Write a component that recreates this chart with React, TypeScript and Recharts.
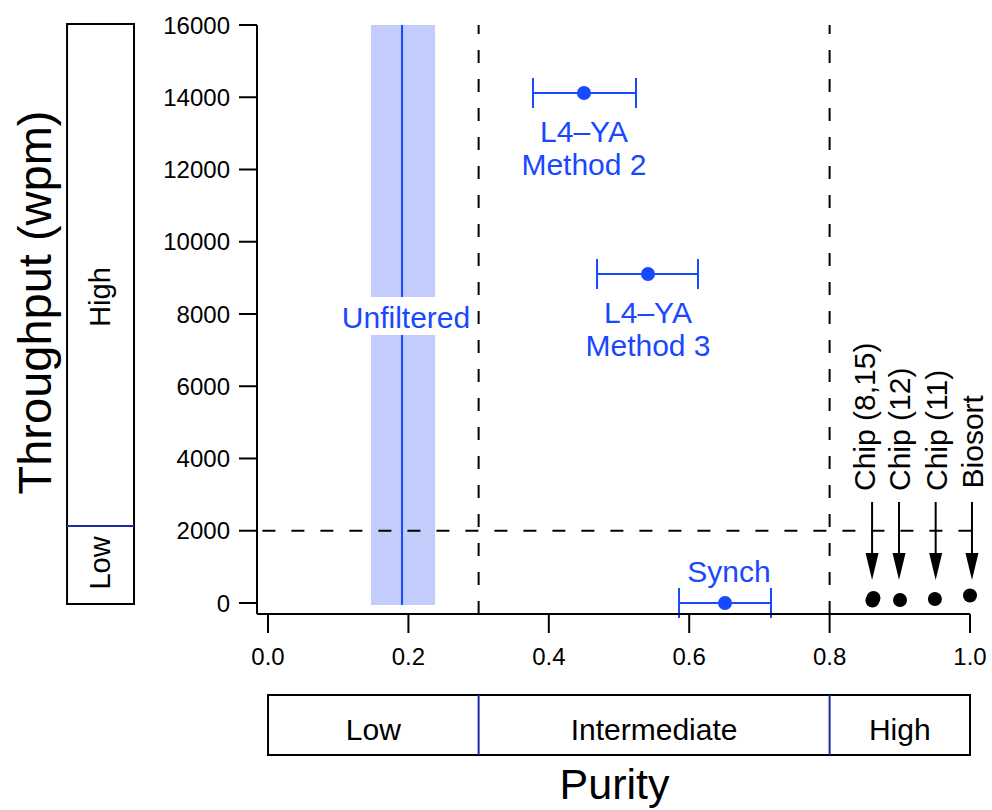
import React from 'react';
import {
  ScatterChart,
  Scatter,
  XAxis,
  YAxis,
  ReferenceArea,
  ReferenceLine,
  ReferenceDot,
  ErrorBar,
} from 'recharts';

// ---------- data ----------
const xTicks = [0, 0.2, 0.4, 0.6, 0.8, 1.0];
const yTicks = [0, 2000, 4000, 6000, 8000, 10000, 12000, 14000, 16000];

const methodNames = ['L4–YA|Method 2', 'L4–YA|Method 3', 'Synch'];
const methodPurity = [0.4501, 0.5413, 0.651];
const methodThroughput = [14118, 9107, 0];
const methodErrLow = [0.0726, 0.0726, 0.0655];
const methodErrHigh = [0.0741, 0.0712, 0.0655];
const methodLabelSide = ['below', 'below', 'above'];

const unfilteredName = 'Unfiltered';
const unfilteredPurity = 0.1909;
const unfilteredRange = [0.1467, 0.2379];
const unfilteredSegments = [
  [-55, 7420],
  [8470, 16000],
];
const unfilteredLabelPoint = [0.1966, 7903];

const chipPurity = [0.861, 0.8625, 0.9003, 0.95, 1.0];
const chipThroughput = [70, 140, 83, 111, 208];

const arrowNames = ['Chip (8,15)', 'Chip (12)', 'Chip (11)', 'Biosort'];
const arrowPurity = [0.8605, 0.8989, 0.9511, 1.0028];
const arrowTop = 2796;
const arrowHeadBase = 1384;
const arrowTip = 637;
const arrowLabelPurity = [0.8647, 0.9145, 0.9672, 1.0185];
const arrowLabelStart = [3100, 3100, 3100, 3170];

const purityThresholds = [0.3, 0.8];
const throughputThreshold = 2000;

const purityClasses = ['Low', 'Intermediate', 'High'];
const purityClassBounds = [
  [0, 0.3],
  [0.3, 0.8],
  [0.8, 1.0],
];
const throughputClasses = ['High', 'Low'];
const throughputClassBounds = [
  [2130, 16028],
  [-28, 2130],
];

// ---------- layout (data-space placement of annotation boxes) ----------
const xDomain: [number, number] = [-0.0157, 1.0];
const yDomain: [number, number] = [-305, 16000];
const purityBox = { y1: -4207, y2: -2546, labelY: -3488 };
const throughputBox = { x1: -0.2863, x2: -0.1909, labelX: -0.2393, labelY: [8470, 1107] };

// ---------- styles ----------
const FONT = '"Liberation Sans", Arial, Helvetica, sans-serif';
const BLUE = '#1848ff';
const BAND = '#c2cdfc';
const NAVY = '#1b2c9e';
const LABEL_SIZE = 30;

const methodData = methodNames.map((name, i) => ({
  x: methodPurity[i],
  y: methodThroughput[i],
  err: [methodErrLow[i], methodErrHigh[i]],
  label: name,
  side: methodLabelSide[i],
}));
const chipData = chipPurity.map((x, i) => ({ x, y: chipThroughput[i] }));

const MethodShape = (p: any) => {
  const { cx, cy, payload } = p;
  const lines: string[] = payload.label.split('|');
  const below = payload.side === 'below';
  return (
    <g>
      <circle cx={cx} cy={cy} r={7} fill={BLUE} />
      {lines.map((t, i) => (
        <text
          key={i}
          x={below ? cx : cx + 4}
          y={below ? cy + 49 + i * 33 : cy - 21 - (lines.length - 1 - i) * 33}
          textAnchor="middle"
          fill={BLUE}
          fontSize={LABEL_SIZE}
          fontFamily={FONT}
        >
          {t}
        </text>
      ))}
    </g>
  );
};

const ChipShape = (p: any) => <circle cx={p.cx} cy={p.cy} r={7} fill="#000" />;

const ArrowHead = (p: any) => (
  <path d={`M${p.cx - 6.5},${p.cy - 27} L${p.cx + 6.5},${p.cy - 27} L${p.cx},${p.cy} Z`} fill="#000" />
);

const rotatedText = (text: string, size: number, fill: string, anchor: string, centered: boolean) => (p: any) => {
  const bx = centered ? p.cx + size * 0.36 : p.cx;
  return (
    <text
      x={bx}
      y={p.cy}
      transform={`rotate(-90 ${bx} ${p.cy})`}
      textAnchor={anchor}
      fontSize={size}
      fill={fill}
      fontFamily={FONT}
    >
      {text}
    </text>
  );
};

const flatText = (text: string, size: number, fill: string) => (p: any) => (
  <text x={p.cx} y={p.cy + size * 0.36} textAnchor="middle" fontSize={size} fill={fill} fontFamily={FONT}>
    {text}
  </text>
);

const YTitle = (props: any) => {
  const vb = props.viewBox || { x: 157, y: 25, width: 100, height: 589 };
  const x = vb.x - 106;
  const y = vb.y + vb.height / 2 - 17;
  return (
    <text x={x} y={y} transform={`rotate(-90 ${x} ${y})`} textAnchor="middle" fontSize={47} fontFamily={FONT} fill="#000">
      Throughput (wpm)
    </text>
  );
};

const XTitle = (props: any) => {
  const vb = props.viewBox || { x: 257, y: 614, width: 713, height: 40 };
  return (
    <text x={vb.x + vb.width / 2 + 1} y={vb.y + 185} textAnchor="middle" fontSize={43} fontFamily={FONT} fill="#000">
      Purity
    </text>
  );
};

const axisStroke = { stroke: '#000', strokeWidth: 2 };
const tickStyle = { fill: '#000', fontSize: 24, fontFamily: FONT };

export default function App() {
  return (
    <div style={{ width: 992, height: 810 }}>
      <style>{'body{margin:0;overflow:hidden}'}</style>
      <ScatterChart
        width={992}
        height={810}
        margin={{ top: 25, right: 22, left: 157, bottom: 156 }}
        style={{ fontFamily: FONT }}
      >
        <XAxis
          dataKey="x"
          type="number"
          domain={xDomain}
          ticks={xTicks}
          interval={0}
          tickFormatter={(v: number) => v.toFixed(1)}
          tickSize={19}
          tickMargin={15}
          height={40}
          axisLine={axisStroke}
          tickLine={axisStroke}
          tick={tickStyle}
          label={{ content: XTitle }}
        />
        <YAxis
          dataKey="y"
          type="number"
          domain={yDomain}
          ticks={yTicks}
          interval={0}
          tickSize={18}
          tickMargin={9}
          width={100}
          axisLine={axisStroke}
          tickLine={axisStroke}
          tick={tickStyle}
          label={{ content: YTitle }}
        />

        {/* Unfiltered band and line */}
        {unfilteredSegments.map(([a, b], i) => (
          <ReferenceArea
            key={`band${i}`}
            x1={unfilteredRange[0]}
            x2={unfilteredRange[1]}
            y1={a}
            y2={b}
            fill={BAND}
            fillOpacity={1}
            stroke="none"
            ifOverflow="visible"
          />
        ))}
        {unfilteredSegments.map(([a, b], i) => (
          <ReferenceLine
            key={`uline${i}`}
            segment={[
              { x: unfilteredPurity, y: a },
              { x: unfilteredPurity, y: b },
            ]}
            stroke={BLUE}
            strokeWidth={2}
            ifOverflow="visible"
          />
        ))}
        <ReferenceDot
          x={unfilteredLabelPoint[0]}
          y={unfilteredLabelPoint[1]}
          r={0}
          ifOverflow="visible"
          shape={flatText(unfilteredName, LABEL_SIZE, BLUE)}
        />

        {/* thresholds */}
        {purityThresholds.map((t) => (
          <ReferenceLine key={`pt${t}`} x={t} stroke="#000" strokeWidth={2} strokeDasharray="13 16" />
        ))}
        <ReferenceLine
          segment={[
            { x: -0.008, y: throughputThreshold },
            { x: 1.012, y: throughputThreshold },
          ]}
          stroke="#000"
          strokeWidth={2}
          strokeDasharray="13 16"
          ifOverflow="visible"
        />

        {/* arrows and chip labels */}
        {arrowPurity.map((x, i) => (
          <ReferenceLine
            key={`shaft${i}`}
            segment={[
              { x, y: arrowTop },
              { x, y: arrowHeadBase },
            ]}
            stroke="#000"
            strokeWidth={2}
            ifOverflow="visible"
          />
        ))}
        {arrowPurity.map((x, i) => (
          <ReferenceDot key={`head${i}`} x={x} y={arrowTip} r={0} ifOverflow="visible" shape={ArrowHead} />
        ))}
        {arrowNames.map((n, i) => (
          <ReferenceDot
            key={`al${i}`}
            x={arrowLabelPurity[i]}
            y={arrowLabelStart[i]}
            r={0}
            ifOverflow="visible"
            shape={rotatedText(n, LABEL_SIZE, '#000', 'start', false)}
          />
        ))}

        {/* purity class box */}
        <ReferenceArea
          x1={purityClassBounds[0][0]}
          x2={purityClassBounds[2][1]}
          y1={purityBox.y1}
          y2={purityBox.y2}
          fill="none"
          stroke="#000"
          strokeWidth={2}
          ifOverflow="visible"
        />
        {purityThresholds.map((t) => (
          <ReferenceLine
            key={`pd${t}`}
            segment={[
              { x: t, y: purityBox.y1 },
              { x: t, y: purityBox.y2 },
            ]}
            stroke={NAVY}
            strokeWidth={2}
            ifOverflow="visible"
          />
        ))}
        {purityClasses.map((c, i) => (
          <ReferenceDot
            key={`pc${i}`}
            x={(purityClassBounds[i][0] + purityClassBounds[i][1]) / 2}
            y={purityBox.labelY}
            r={0}
            ifOverflow="visible"
            shape={flatText(c, LABEL_SIZE, '#000')}
          />
        ))}

        {/* throughput class box */}
        <ReferenceArea
          x1={throughputBox.x1}
          x2={throughputBox.x2}
          y1={throughputClassBounds[1][0]}
          y2={throughputClassBounds[0][1]}
          fill="none"
          stroke="#000"
          strokeWidth={2}
          ifOverflow="visible"
        />
        <ReferenceLine
          segment={[
            { x: throughputBox.x1, y: throughputClassBounds[0][0] },
            { x: throughputBox.x2, y: throughputClassBounds[0][0] },
          ]}
          stroke={NAVY}
          strokeWidth={2}
          ifOverflow="visible"
        />
        {throughputClasses.map((c, i) => (
          <ReferenceDot
            key={`tc${i}`}
            x={throughputBox.labelX}
            y={throughputBox.labelY[i]}
            r={0}
            ifOverflow="visible"
            shape={rotatedText(c, 29, '#000', 'middle', true)}
          />
        ))}

        <Scatter data={methodData} shape={MethodShape} isAnimationActive={false}>
          <ErrorBar dataKey="err" direction="x" width={15} stroke={BLUE} strokeWidth={2} isAnimationActive={false} />
        </Scatter>
        <Scatter data={chipData} shape={ChipShape} isAnimationActive={false} />
      </ScatterChart>
    </div>
  );
}
